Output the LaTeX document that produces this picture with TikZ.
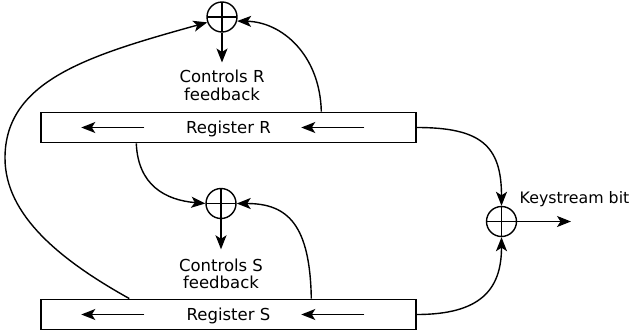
\documentclass[tikz,border=0pt]{standalone}
\usepackage{fontspec}
\setmainfont{DejaVu Sans}
\usetikzlibrary{arrows.meta}
\begin{document}
\begin{tikzpicture}[x=1pt,y=-1pt,line width=1.4pt,
  >={Stealth[length=14pt,width=11pt,inset=3.5pt]},
  lbl/.style={font=\fontsize{16.5}{17.5}\selectfont,inner sep=0pt},
  xor/.style={circle,draw,minimum size=30pt,inner sep=0pt,
    path picture={\draw (path picture bounding box.north) -- (path picture bounding box.south)
                        (path picture bounding box.west) -- (path picture bounding box.east);}},
  reg/.style={draw,lbl,minimum width=375pt,minimum height=30.5pt,text height=12pt,text depth=0pt}]
\useasboundingbox (0,0) rectangle (632,335);
% registers
\node[reg] (R) at (228.5,127.5) {Register R};
\node[reg] (S) at (228.5,314.5) {Register S};
% xor gates
\node[xor] (XR) at (222,17) {};
\node[xor] (XS) at (221,203.5) {};
\node[xor] (XO) at (501.5,221.5) {};
% labels
\coordinate (cr) at (222,62.5);
\node[lbl,align=center,anchor=north] (CR) at (222,69.5) {Controls R\\feedback};
\coordinate (cs) at (221,249.3);
\node[lbl,align=center,anchor=north] (CS) at (221,257.8) {Controls S\\feedback};
\coordinate (ko) at (571,221.5);
\node[lbl,font=\fontsize{15.8}{17.5}\selectfont,anchor=base west] (KB) at (519,203.3) {Keystream bit};
% output arrows of xor gates
\draw[->] (XR.south) -- (cr);
\draw[->] (XS.south) -- (cs);
\draw[->] (XO.east) -- (ko);
% shift arrows inside registers
\draw[->] ([xshift=104pt]R.west) -- ([xshift=41pt]R.west);
\draw[->] ([xshift=324pt]R.west) -- ([xshift=261pt]R.west);
\draw[->] ([xshift=104pt]S.west) -- ([xshift=41pt]S.west);
\draw[->] ([xshift=324pt]S.west) -- ([xshift=261pt]S.west);
% to keystream xor
\draw[->] (R.east) .. controls (480,127.5) and (501.5,145) .. (XO.north);
\draw[->] (S.east) .. controls (480,314.5) and (501.5,290) .. (XO.south);
% R feedback
\draw[->] ([xshift=281pt]R.north west) .. controls (320,55) and (282,22) .. (XR.-15);
\draw[->] ([xshift=89pt]S.north west) .. controls (60,260) and (5,215) .. (5,158)
          .. controls (5,80) and (90,55) .. (XR.200);
% S feedback
\draw[->] ([xshift=96pt]R.south west) .. controls (138,185) and (165,200) .. (XS.west);
\draw[->] ([xshift=271pt]S.north west) .. controls (310,225) and (288,203.5) .. (XS.east);
\end{tikzpicture}
\end{document}
